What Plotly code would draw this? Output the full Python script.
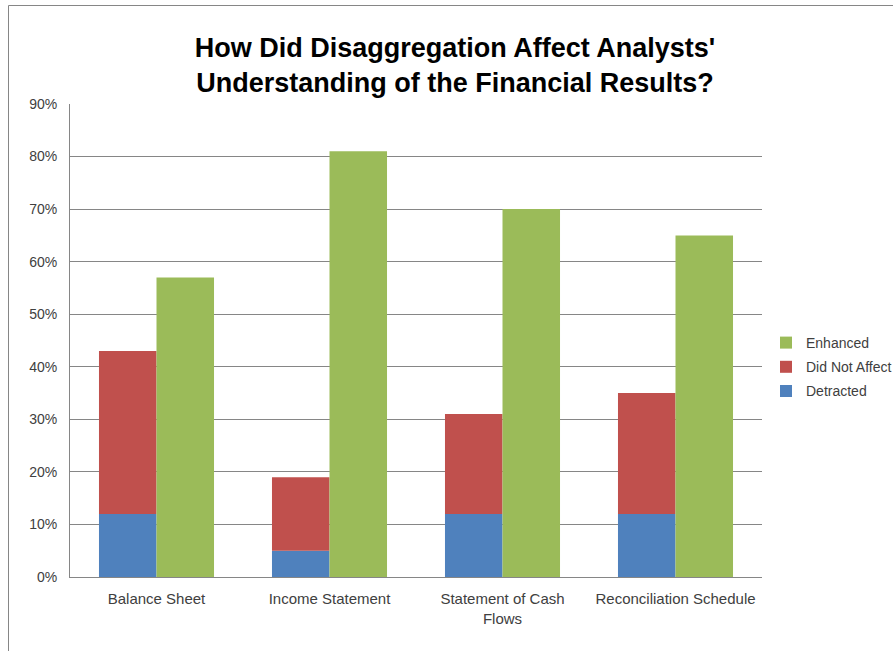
import plotly.graph_objects as go

categories = ["Balance Sheet", "Income Statement", "Statement of Cash<br>Flows", "Reconciliation Schedule"]
detracted = [12, 5, 12, 12]
did_not_affect = [31, 14, 19, 23]
enhanced = [57, 81, 70, 65]

W, H = 893, 651
L, R, T, B = 70, 131, 104, 74
pw, ph = W - L - R, H - T - B

fig = go.Figure()
fig.add_trace(go.Bar(name="Detracted", x=categories, y=detracted, offsetgroup="a", legendgroup="d",
                     legendrank=3, marker=dict(color="#4F81BD", line=dict(width=0))))
fig.add_trace(go.Bar(name="Did Not Affect", x=categories, y=did_not_affect, base=detracted,
                     offsetgroup="a", legendgroup="n", legendrank=2,
                     marker=dict(color="#C0504D", line=dict(width=0))))
fig.add_trace(go.Bar(name="Enhanced", x=categories, y=enhanced, offsetgroup="b", legendgroup="e",
                     legendrank=1, marker=dict(color="#9BBB59", line=dict(width=0))))

def px2paper_x(x):
    return (x - L) / pw

def px2paper_y(y):
    return 1 - (y - T) / ph

fig.update_layout(
    width=W, height=H,
    margin=dict(l=L, r=R, t=T, b=B, autoexpand=False),
    paper_bgcolor="white", plot_bgcolor="white",
    barmode="group", bargap=0.335, bargroupgap=0,
    font=dict(family="Liberation Sans, Arial, sans-serif", size=14, color="#404040"),
    title=dict(text="How Did Disaggregation Affect Analysts'<br>Understanding of the Financial Results?",
               x=455 / W, xanchor="center", y=1 - 57 / H, yanchor="middle",
               font=dict(family="Liberation Sans, Arial, sans-serif", size=27, color="black", weight="bold")),
    legend=dict(traceorder="grouped", x=px2paper_x(766), xanchor="left", y=px2paper_y(327),
                yanchor="top", font=dict(size=14, color="#404040"), itemwidth=30, tracegroupgap=3,
                bgcolor="rgba(0,0,0,0)"),
    yaxis=dict(range=[0, 90], dtick=10, ticksuffix="%", showgrid=True, gridcolor="#868686", gridwidth=1,
               showline=True, linecolor="#868686", linewidth=1, ticks="", zeroline=False,
               ticklabelstandoff=9, tickfont=dict(size=14, color="#404040")),
    xaxis=dict(showline=True, linecolor="#868686", linewidth=1, ticks="", ticklabelstandoff=8,
               tickfont=dict(size=15, color="#404040")),
    shapes=[dict(type="rect", xref="paper", yref="paper",
                 x0=px2paper_x(8.5), x1=px2paper_x(905), y0=px2paper_y(5.5), y1=px2paper_y(670),
                 line=dict(color="#868686", width=1), fillcolor="rgba(0,0,0,0)", layer="below")],
    showlegend=True,
)

fig.write_html("out.html")
